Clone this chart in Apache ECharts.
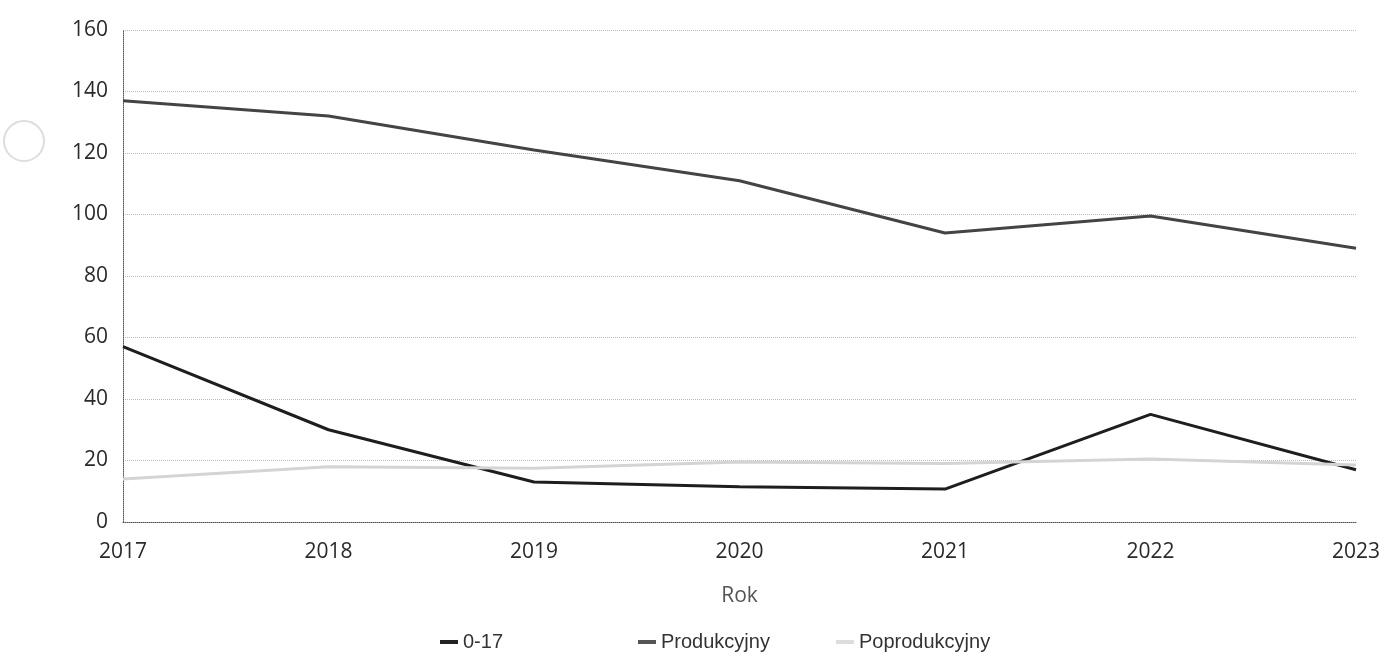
<!DOCTYPE html>
<html><head><meta charset="utf-8">
<script src="https://cdn.jsdelivr.net/npm/echarts@6/dist/echarts.min.js"></script>
<style>html,body{margin:0;padding:0;background:#fff}#c{width:1379px;height:655px}</style>
</head><body><div id="c"></div>
<script>
const years = ['2017','2018','2019','2020','2021','2022','2023'];
const age0to17 = [57, 30, 13, 11.5, 10.7, 35, 17];
const produkcyjny = [137, 132, 121, 111, 94, 99.5, 89];
const poprodukcyjny = [14, 18, 17.5, 19.5, 19, 20.5, 18.5];
const seriesNames = ['0-17', 'Produkcyjny', 'Poprodukcyjny'];
const yTicks = {min: 0, max: 160, interval: 20};

const chart = echarts.init(document.getElementById('c'));
const colors = ['#1e1e1e', '#444', '#d4d4d4'];
const legendIconColors = ['#222', '#555', '#ddd'];
const legendLeft = [435, 633, 831];
const mk = (i, data) => ({
  name: seriesNames[i], type: 'line', data, symbol: 'none', smooth: false,
  lineStyle: {color: colors[i], width: 3}, itemStyle: {color: legendIconColors[i]}
});
chart.setOption({
  animation: false,
  grid: {left: 123, right: 23, top: 30, bottom: 133, outerBoundsMode: 'none', containLabel: false},
  xAxis: {
    type: 'category', data: years, boundaryGap: false,
    name: 'Rok', nameLocation: 'middle', nameGap: 64,
    nameTextStyle: {fontFamily: 'Open Sans', fontSize: 21, color: '#555'},
    axisLine: {lineStyle: {color: '#555', type: 'dotted', width: 1}},
    axisTick: {show: false},
    axisLabel: {fontFamily: 'Open Sans', fontSize: 21, color: '#2a2a2a', margin: 20}
  },
  yAxis: {
    type: 'value', min: yTicks.min, max: yTicks.max, interval: yTicks.interval,
    axisLine: {show: true, lineStyle: {color: '#555', type: 'dotted', width: 1}},
    axisTick: {show: false},
    splitLine: {lineStyle: {color: '#bbb', type: 'dotted', width: 1}},
    axisLabel: {fontFamily: 'Open Sans', fontSize: 21, color: '#2a2a2a', margin: 15}
  },
  legend: seriesNames.map((n, i) => ({
    left: legendLeft[i], top: 627, itemGap: 0, itemWidth: 18, itemHeight: 4, icon: 'rect',
    textStyle: {fontFamily: 'Liberation Sans', fontSize: 20, color: '#333'},
    data: [n]
  })),
  graphic: [{
    type: 'circle', shape: {cx: 24, cy: 141, r: 20},
    style: {fill: 'none', stroke: '#ddd', lineWidth: 2}
  }],
  series: [
    mk(0, age0to17),
    mk(1, produkcyjny),
    mk(2, poprodukcyjny)
  ]
});
</script></body></html>
